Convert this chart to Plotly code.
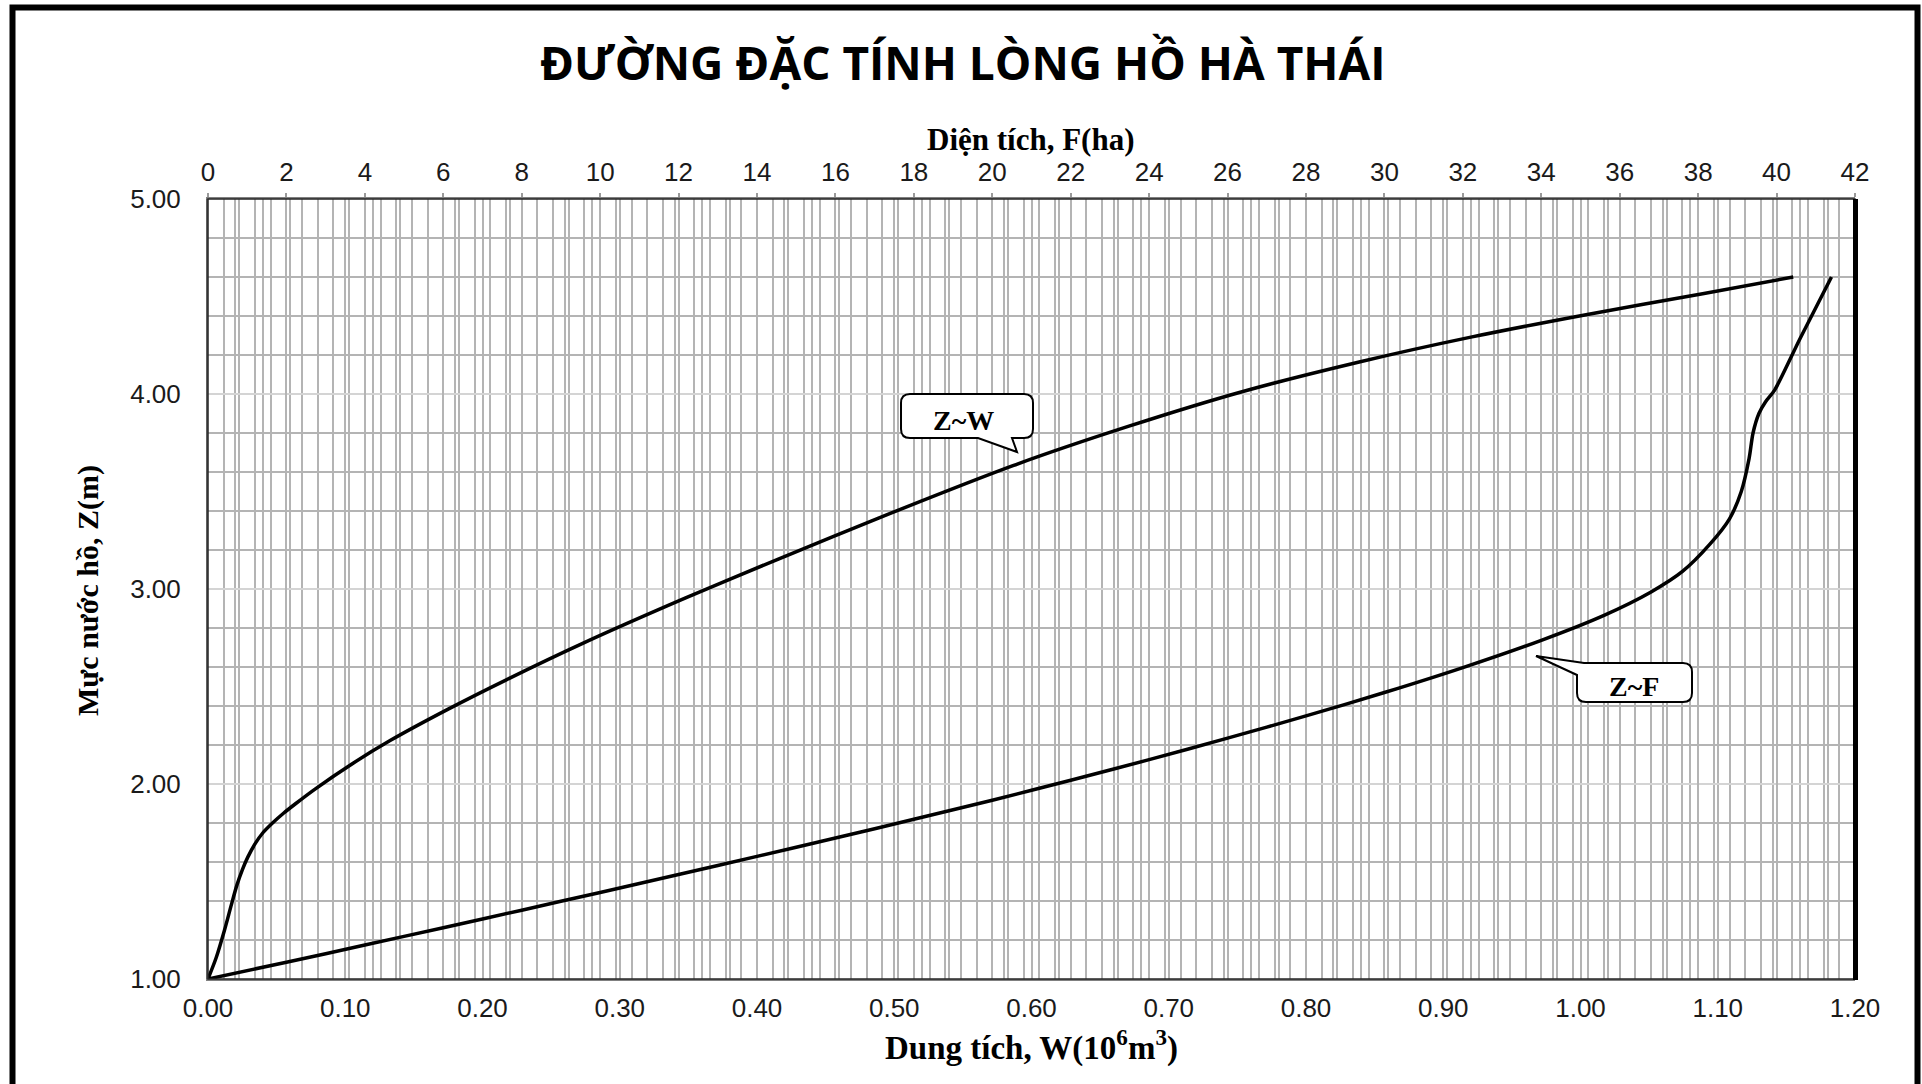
import plotly.graph_objects as go

# ---------------- data ----------------
# Z ~ W curve : volume W (10^6 m3) vs water level Z (m)
w_volume = [0.000, 0.006, 0.012, 0.017, 0.021, 0.025, 0.029, 0.034, 0.040, 0.047,
            0.055, 0.064, 0.078, 0.106, 0.133, 0.175, 0.217, 0.273, 0.348, 0.416,
            0.489, 0.587, 0.671, 0.754, 0.838, 0.921, 1.005, 1.089, 1.155]
z_of_w = [1.000, 1.110, 1.250, 1.380, 1.480, 1.560, 1.625, 1.690, 1.750, 1.800,
          1.850, 1.900, 1.974, 2.108, 2.224, 2.384, 2.533, 2.721, 2.954, 3.155,
          3.365, 3.634, 3.835, 4.013, 4.163, 4.293, 4.408, 4.514, 4.600]

# Z ~ F curve : surface area F (ha) vs water level Z (m)
f_area = [0.0, 2.0, 4.0, 6.0, 8.0, 10.0, 12.0, 14.0, 16.0, 18.0,
          20.0, 22.0, 24.0, 26.0, 28.0, 30.0, 32.0, 34.0, 35.6, 36.8,
          37.6, 38.3, 38.8, 39.1, 39.3, 39.4, 39.55, 39.72, 39.95, 40.6, 41.4]
z_of_f = [1.000, 1.086, 1.174, 1.263, 1.353, 1.444, 1.536, 1.629, 1.723, 1.819,
          1.917, 2.019, 2.125, 2.235, 2.349, 2.469, 2.597, 2.737, 2.865, 2.985,
          3.090, 3.230, 3.360, 3.500, 3.670, 3.800, 3.900, 3.960, 4.020, 4.285, 4.600]

w_range = [0, 1.2]
f_range = [0, 42]
z_range = [1, 5]

title_text = "ĐƯỜNG ĐẶC TÍNH LÒNG HỒ HÀ THÁI"
top_axis_title = "Diện tích, F(ha)"
bottom_axis_title = "Dung tích, W(10<sup>6</sup>m<sup>3</sup>)"
left_axis_title = "Mực nước hồ, Z(m)"
label_w = "Z~W"
label_f = "Z~F"

# ---------------- layout geometry (pixels) ----------------
FIG_W, FIG_H = 1922, 1084
L, R, T, B = 208, 1855, 199, 979


def px(x):
    return (x - L) / (R - L)


def py(y):
    return (B - y) / (B - T)


def pt(x, y):
    return f"{px(x):.5f},{py(y):.5f}"


def callout_bottom_tail(x0, y0, x1, y1, r, xa, xb, tip):
    p = [f"M{pt(x0 + r, y0)}", f"L{pt(x1 - r, y0)}",
         f"Q{pt(x1, y0)} {pt(x1, y0 + r)}", f"L{pt(x1, y1 - r)}",
         f"Q{pt(x1, y1)} {pt(x1 - r, y1)}", f"L{pt(xb, y1)}",
         f"L{pt(*tip)}", f"L{pt(xa, y1)}", f"L{pt(x0 + r, y1)}",
         f"Q{pt(x0, y1)} {pt(x0, y1 - r)}", f"L{pt(x0, y0 + r)}",
         f"Q{pt(x0, y0)} {pt(x0 + r, y0)}", "Z"]
    return " ".join(p)


def callout_corner_tail(x0, y0, x1, y1, r, xa, yb, tip):
    p = [f"M{pt(xa, y0)}", f"L{pt(x1 - r, y0)}",
         f"Q{pt(x1, y0)} {pt(x1, y0 + r)}", f"L{pt(x1, y1 - r)}",
         f"Q{pt(x1, y1)} {pt(x1 - r, y1)}", f"L{pt(x0 + r, y1)}",
         f"Q{pt(x0, y1)} {pt(x0, y1 - r)}", f"L{pt(x0, yb)}",
         f"L{pt(*tip)}", "Z"]
    return " ".join(p)


fig = go.Figure()
fig.add_trace(go.Scatter(x=w_volume, y=z_of_w, mode="lines", name=label_w,
                         line=dict(color="black", width=3.5, shape="spline", smoothing=0.8),
                         xaxis="x", yaxis="y", hoverinfo="skip"))
fig.add_trace(go.Scatter(x=f_area, y=z_of_f, mode="lines", name=label_f,
                         line=dict(color="black", width=3.5, shape="spline", smoothing=0.8),
                         xaxis="x2", yaxis="y", hoverinfo="skip"))

tick_font = dict(family="Liberation Sans, Arial", size=26, color="#1a1a1a")
grid_c = "#b4b4b4"

fig.update_layout(
    width=FIG_W, height=FIG_H,
    margin=dict(l=L, r=FIG_W - R, t=T, b=FIG_H - B, pad=0),
    paper_bgcolor="white", plot_bgcolor="white",
    showlegend=False,
    xaxis=dict(range=w_range, dtick=0.1, tick0=0, tickformat=".2f",
               showgrid=True, gridcolor=grid_c, gridwidth=2,
               minor=dict(dtick=0.02, showgrid=True, gridcolor=grid_c, gridwidth=2),
               showline=True, linecolor="#808080", linewidth=2,
               zeroline=False, ticks="", tickfont=tick_font, ticklabelstandoff=5,
               fixedrange=True),
    xaxis2=dict(range=f_range, dtick=2, tick0=0, overlaying="x", side="top", anchor="y",
                showgrid=True, gridcolor=grid_c, gridwidth=2,
                minor=dict(dtick=0.4, showgrid=True, gridcolor=grid_c, gridwidth=2),
                showline=True, linecolor="#808080", linewidth=2,
                zeroline=False, ticks="outside", ticklen=4, tickcolor="#9a9a9a",
                tickwidth=2, tickfont=tick_font, ticklabelstandoff=2, fixedrange=True),
    yaxis=dict(range=z_range, dtick=1, tick0=1, tickformat=".2f",
               showgrid=True, gridcolor="#d4d4d4", gridwidth=2,
               minor=dict(dtick=0.2, showgrid=True, gridcolor=grid_c, gridwidth=2),
               showline=True, linecolor="#606060", linewidth=2,
               zeroline=False, ticks="", tickfont=tick_font, ticklabelstandoff=20,
               fixedrange=True),
)

shapes = [
    # outer chart frame
    dict(type="rect", xref="paper", yref="paper", x0=px(12.5), x1=px(1917.5),
         y0=py(1095), y1=py(7.5), line=dict(color="black", width=6), layer="above"),
    # plot area frame
    dict(type="rect", xref="paper", yref="paper", x0=0, x1=1, y0=0, y1=1,
         line=dict(color="#262626", width=1.5), layer="above"),
    # heavy right border of the plot area
    dict(type="line", xref="paper", yref="paper", x0=px(1855.5), x1=px(1855.5),
         y0=py(980), y1=py(199), line=dict(color="black", width=5), layer="above"),
    # callouts
    dict(type="path", xref="paper", yref="paper",
         path=callout_bottom_tail(901, 394, 1033, 438, 9, 978, 1012, (1017, 452)),
         fillcolor="white", line=dict(color="black", width=2), layer="above"),
    dict(type="path", xref="paper", yref="paper",
         path=callout_corner_tail(1577, 663, 1692, 702, 9, 1584, 675, (1536, 656)),
         fillcolor="white", line=dict(color="black", width=2), layer="above"),
]
fig.update_layout(shapes=shapes)

serif = "Liberation Serif, Times New Roman, serif"
annotations = [
    dict(text=title_text, x=px(963), y=py(62), xref="paper", yref="paper",
         showarrow=False, xanchor="center", yanchor="middle",
         font=dict(family="Open Sans, Arial", size=46, color="black", weight="bold")),
    dict(text=top_axis_title, x=px(1031), y=py(139), xref="paper", yref="paper",
         showarrow=False, xanchor="center", yanchor="middle",
         font=dict(family=serif, size=31, color="black", weight="bold")),
    dict(text=bottom_axis_title, x=px(1031), y=py(1045), xref="paper", yref="paper",
         showarrow=False, xanchor="center", yanchor="middle",
         font=dict(family=serif, size=33, color="black", weight="bold")),
    dict(text=left_axis_title, x=px(88), y=py(590), xref="paper", yref="paper",
         showarrow=False, xanchor="center", yanchor="middle", textangle=-90,
         font=dict(family=serif, size=30, color="black", weight="bold")),
    dict(text=label_w, x=px(963), y=py(420), xref="paper", yref="paper",
         showarrow=False, xanchor="center", yanchor="middle",
         font=dict(family=serif, size=28, color="black", weight="bold")),
    dict(text=label_f, x=px(1634), y=py(686), xref="paper", yref="paper",
         showarrow=False, xanchor="center", yanchor="middle",
         font=dict(family=serif, size=28, color="black", weight="bold")),
]
fig.update_layout(annotations=annotations)

fig.write_html("out.html", config={"displayModeBar": False, "staticPlot": True},
               post_script="document.body.style.margin='0';document.body.style.overflow='hidden';")
